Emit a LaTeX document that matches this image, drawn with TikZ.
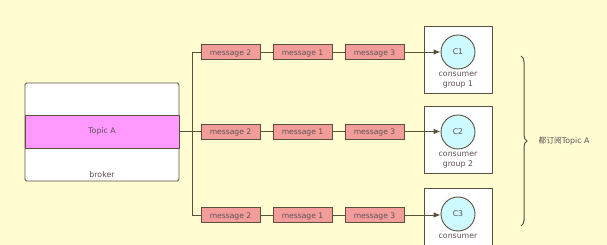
\documentclass[tikz,border=0pt]{standalone}
\usepackage{fontspec}
\setmainfont{DejaVu Sans}
\newfontfamily\cjk{Noto Sans CJK SC}
\usetikzlibrary{arrows.meta,decorations.pathreplacing}
\definecolor{bg}{HTML}{FFFCD2}
\definecolor{ln}{HTML}{5B4F3E}
\definecolor{txt}{HTML}{5E5058}
\definecolor{msgfill}{HTML}{F29D9A}
\definecolor{topicfill}{HTML}{FF99FF}
\definecolor{cfill}{HTML}{CCFAFF}
\tikzset{
  msg/.style={draw=ln, line width=0.9pt, fill=msgfill, minimum width=59pt, minimum height=15pt, inner sep=0pt, text height=1.5ex, text depth=0.3ex, font=\fontsize{7.6}{8}\selectfont, text=txt},
  wire/.style={draw=ln, line width=0.9pt},
  group/.style={draw=ln, line width=0.8pt, fill=white, minimum width=68pt, minimum height=67pt, inner sep=0pt},
  cons/.style={draw=ln, line width=0.9pt, fill=cfill, circle, minimum size=34pt, inner sep=0pt, font=\fontsize{7.8}{8}\selectfont, text=txt},
  lbl/.style={font=\fontsize{7.8}{10}\selectfont, text=txt, align=center}
}
\begin{document}
\begin{tikzpicture}[x=1pt,y=-1pt]
\useasboundingbox (0,0) rectangle (607,245);
\fill[bg] (0,0) rectangle (607,245);
\clip (0,0) rectangle (607,245);
% broker with its topic band
\node[draw=ln, line width=0.9pt, fill=white, rounded corners=1.5pt, minimum width=154pt, minimum height=98pt, inner sep=0pt] (broker) at (102,132) {};
\node[draw=ln, line width=0.9pt, fill=topicfill, minimum width=154pt, minimum height=33pt, inner sep=0pt, font=\fontsize{7.8}{8}\selectfont, text=txt] (topic) at (102,131.5) {Topic A};
\node[lbl] (blabel) at (102,175) {broker};
% fan-out junction
\coordinate (j) at (192,131.5);
\coordinate (jt) at (192,52);
\coordinate (jb) at (192,215);
\draw[wire] (topic.east) -- (j);
\draw[wire] (jt) -- (jb);
% consumer groups
\foreach \i/\y in {1/52,2/132,3/214}{
  \node[group] (g\i) at (458,\y+7.5) {};
  \node[cons] (c\i) at (458,\y) {C\i};
}
\node[lbl, anchor=north] (gl1) at (458,69) {consumer\\group 1};
\node[lbl, anchor=north] (gl2) at (458,149) {consumer\\group 2};
\node[lbl, anchor=north, inner ysep=1pt] (gl3) at (458,233) {consumer};
% message queues
\foreach \i/\y in {1/52,2/131.5,3/215}{
  \node[msg] (ma\i) at (230.5,\y) {message 2};
  \node[msg] (mb\i) at (302.5,\y) {message 1};
  \node[msg] (mc\i) at (374.5,\y) {message 3};
  \draw[wire] (ma\i) -- (mb\i);
  \draw[wire] (mb\i) -- (mc\i);
  \draw[wire, -{Latex[length=7pt,width=5.5pt]}] (mc\i) -- (c\i.west |- mc\i.east);
}
\draw[wire] (jt) -- (ma1.west);
\draw[wire] (j) -- (ma2.west);
\draw[wire] (jb) -- (ma3.west);
% brace over the three groups
\coordinate (bt) at (521,56);
\coordinate (bb) at (521,226);
\draw[wire, line width=1pt, decorate, decoration={brace, amplitude=6pt}] (bt) -- (bb);
\node[lbl, anchor=west] (sub) at (535,141) {{\cjk 都订阅}Topic A};
\end{tikzpicture}
\end{document}
